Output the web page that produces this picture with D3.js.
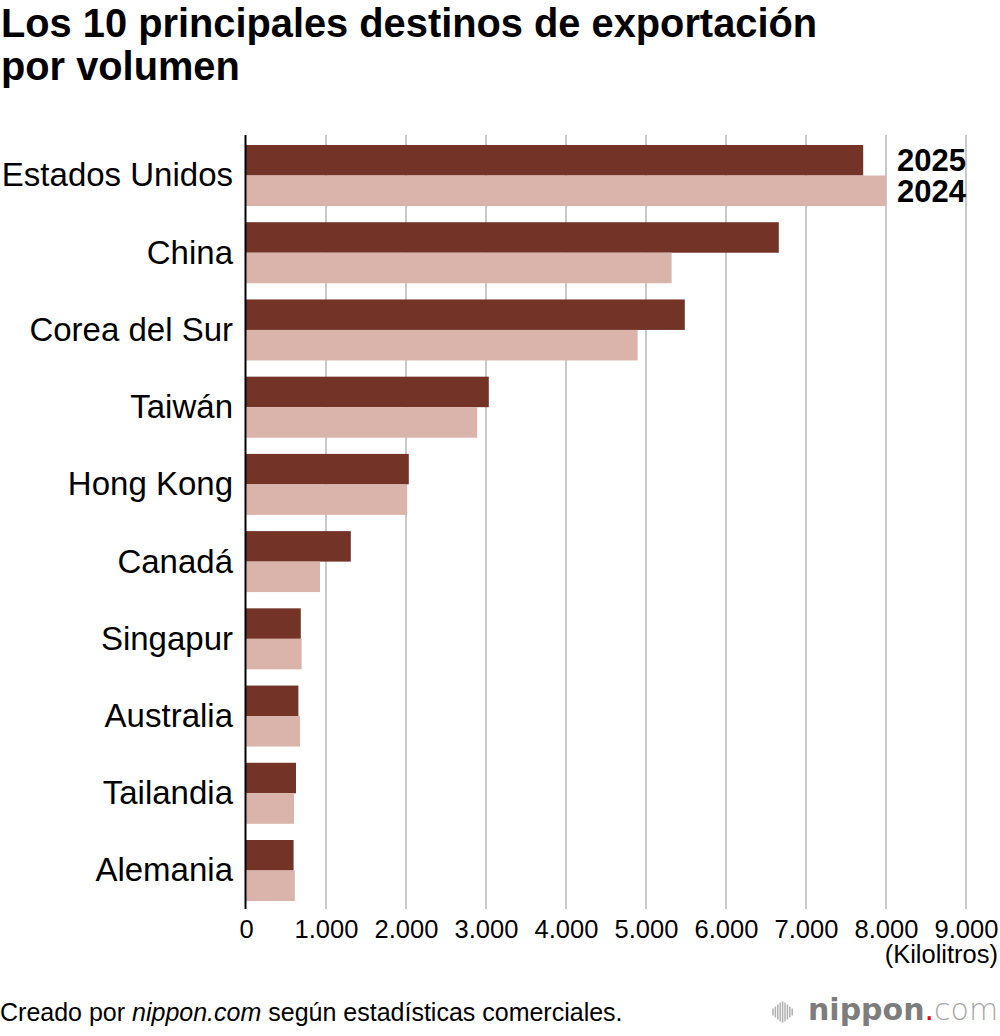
<!DOCTYPE html>
<html>
<head>
<meta charset="utf-8">
<script src="https://cdn.jsdelivr.net/npm/d3@7"></script>
<style>
  html, body { margin: 0; padding: 0; background: #fff; }
  svg { display: block; font-family: "Liberation Sans", Arial, Helvetica, sans-serif; }
</style>
</head>
<body>
<svg id="chart" width="1000" height="1036"></svg>
<script>
// data (kilolitres)
const countries = ["Estados Unidos", "China", "Corea del Sur", "Taiwán", "Hong Kong",
  "Canadá", "Singapur", "Australia", "Tailandia", "Alemania"];
const years = ["2025", "2024"];
const values2025 = [7715, 6660, 5485, 3035, 2035, 1310, 685, 655, 625, 595];
const values2024 = [8000, 5320, 4895, 2890, 2015, 925, 695, 675, 600, 610];
const xTicks = [0, 1000, 2000, 3000, 4000, 5000, 6000, 7000, 8000, 9000];
const titleLines = ["Los 10 principales destinos de exportación", "por volumen"];
const unitLabel = "(Kilolitros)";
const logoBars = [7, 11, 15, 19, 21, 19, 15, 11, 7];

const colors = { "2025": "#733427", "2024": "#dab3aa" };

const rows = countries.map((c, i) => ({
  country: c,
  values: [
    { year: "2025", value: values2025[i] },
    { year: "2024", value: values2024[i] }
  ]
}));

const svg = d3.select("#chart");

const x = d3.scaleLinear().domain([0, 9000]).range([246, 966]);
const y = d3.scaleBand().domain(countries).range([145, 901]).paddingInner(0.21);
const ySub = d3.scaleBand().domain(years).range([0, y.bandwidth()]);

const plotTop = 135, plotBottom = 909;

const locale = d3.formatLocale({ decimal: ",", thousands: ".", grouping: [3], currency: ["", ""] });
const fmt = locale.format(",");

// title
svg.append("g")
  .selectAll("text")
  .data(titleLines)
  .join("text")
  .attr("x", 1)
  .attr("y", (d, i) => 37 + i * 42.5)
  .attr("font-size", 39.8)
  .attr("font-weight", "bold")
  .attr("fill", "#000")
  .text(d => d);

// gridlines
svg.append("g")
  .selectAll("line")
  .data(xTicks.slice(1))
  .join("line")
  .attr("x1", d => x(d)).attr("x2", d => x(d))
  .attr("y1", plotTop).attr("y2", plotBottom)
  .attr("stroke", "#c9c9c9")
  .attr("stroke-width", 2);

// bars
svg.append("g")
  .selectAll("g")
  .data(rows)
  .join("g")
  .attr("transform", d => `translate(0,${y(d.country)})`)
  .selectAll("rect")
  .data(d => d.values)
  .join("rect")
  .attr("x", x(0))
  .attr("y", d => ySub(d.year))
  .attr("width", d => x(d.value) - x(0))
  .attr("height", ySub.bandwidth())
  .attr("fill", d => colors[d.year]);

// vertical axis line
svg.append("line")
  .attr("x1", x(0) - 0.5).attr("x2", x(0) - 0.5)
  .attr("y1", plotTop).attr("y2", plotBottom)
  .attr("stroke", "#000")
  .attr("stroke-width", 2);

// category labels
svg.append("g")
  .selectAll("text")
  .data(countries)
  .join("text")
  .attr("x", 233)
  .attr("y", d => y(d) + y.bandwidth() / 2)
  .attr("dy", "0.33em")
  .attr("text-anchor", "end")
  .attr("font-size", 33)
  .attr("fill", "#000")
  .text(d => d);

// x axis
const xAxis = d3.axisBottom(x).tickValues(xTicks).tickSize(0).tickPadding(0).tickFormat(fmt);
svg.append("g")
  .attr("transform", `translate(0,${plotBottom})`)
  .call(xAxis)
  .call(g => {
    g.select(".domain").remove();
    g.selectAll(".tick text")
      .attr("y", 0)
      .attr("dy", 29.3)
      .attr("font-size", 25.5)
      .attr("font-family", "Liberation Sans, Arial, sans-serif")
      .attr("fill", "#000");
  });

svg.append("text")
  .attr("x", 998)
  .attr("y", 963)
  .attr("text-anchor", "end")
  .attr("font-size", 25.5)
  .attr("fill", "#000")
  .text(unitLabel);

// legend next to the first pair of bars
svg.append("g")
  .selectAll("text")
  .data(years)
  .join("text")
  .attr("x", 897)
  .attr("y", d => y(countries[0]) + ySub(d) + ySub.bandwidth() / 2)
  .attr("dy", "0.36em")
  .attr("font-size", 31)
  .attr("font-weight", "bold")
  .attr("fill", "#000")
  .text(d => d);

// footer
const footer = svg.append("text")
  .attr("x", 0)
  .attr("y", 1021)
  .attr("font-size", 25)
  .attr("fill", "#000");
footer.append("tspan").text("Creado por ");
footer.append("tspan").attr("font-style", "italic").text("nippon.com");
footer.append("tspan").text(" según estadísticas comerciales.");

// logo
const logo = svg.append("g");
logo.selectAll("line")
  .data(logoBars)
  .join("line")
  .attr("x1", (d, i) => 773 + i * 2.4)
  .attr("x2", (d, i) => 773 + i * 2.4)
  .attr("y1", d => 1012 - d / 2)
  .attr("y2", d => 1012 + d / 2)
  .attr("stroke", "#b0b0b0")
  .attr("stroke-width", 1.5);

const logoText = logo.append("text")
  .attr("x", 808)
  .attr("y", 1020)
  .attr("font-family", "DejaVu Sans, sans-serif")
  .attr("font-size", 30);
logoText.append("tspan").attr("font-weight", "bold").attr("fill", "#7d7d7d").text("nippon");
logoText.append("tspan").attr("fill", "#e60012").text(".");
logoText.append("tspan").attr("fill", "#a6a6a6").attr("font-weight", 300).text("com");
</script>
</body>
</html>
